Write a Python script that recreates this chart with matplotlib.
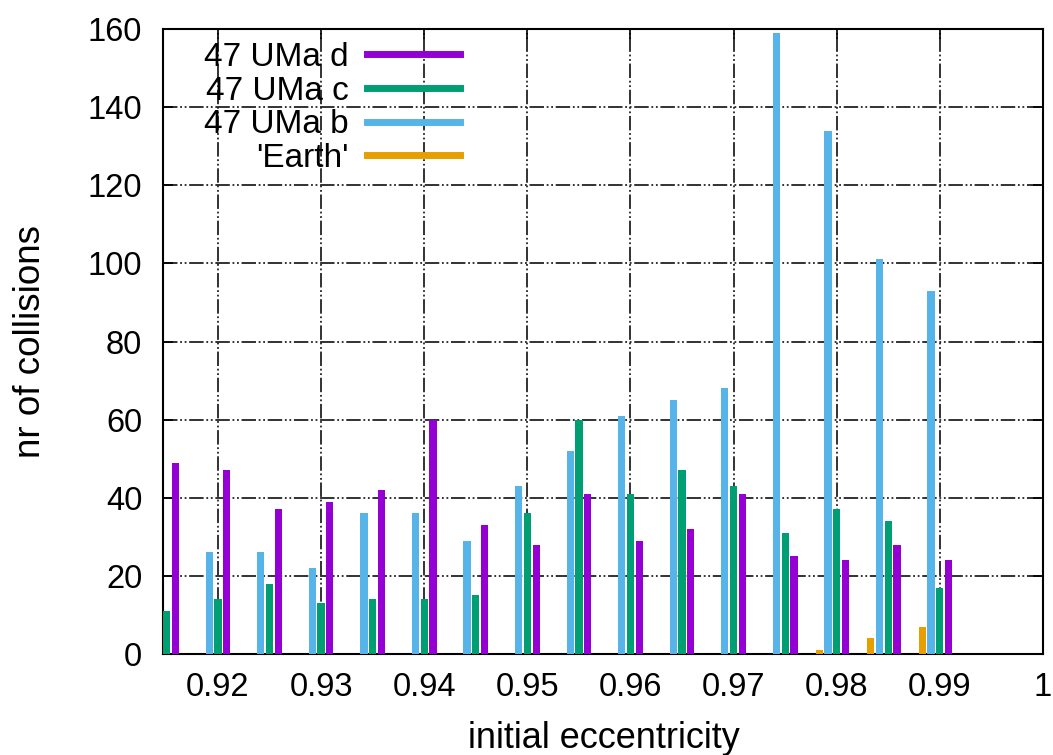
import matplotlib
matplotlib.use("Agg")
import matplotlib.pyplot as plt
import numpy as np

plt.rcParams["font.family"] = ["Liberation Sans", "DejaVu Sans"]

# initial eccentricity of each group
ecc = [0.915, 0.920, 0.925, 0.930, 0.935, 0.940, 0.945, 0.950,
       0.955, 0.960, 0.965, 0.970, 0.975, 0.980, 0.985, 0.990]

# number of collisions per body
uma_d = [49, 47, 37, 39, 42, 60, 33, 28, 41, 29, 32, 41, 25, 24, 28, 24]
uma_c = [11, 14, 18, 13, 14, 14, 15, 36, 60, 41, 47, 43, 31, 37, 34, 17]
uma_b = [0, 26, 26, 22, 36, 36, 29, 43, 52, 61, 65, 68, 159, 134, 101, 93]
earth = [0, 0, 0, 0, 0, 0, 0, 0, 0, 0, 0, 0, 0, 1, 4, 7]

xticks = [0.92, 0.93, 0.94, 0.95, 0.96, 0.97, 0.98, 0.99, 1.0]
xticklabels = ["0.92", "0.93", "0.94", "0.95", "0.96", "0.97", "0.98", "0.99", "1"]
yticks = [0, 20, 40, 60, 80, 100, 120, 140, 160]

col_d = "#9400d3"
col_c = "#009e73"
col_b = "#56b4e9"
col_e = "#e69f00"

W, H = 1053, 755
fig = plt.figure(figsize=(W / 100, H / 100), dpi=100)
ax = fig.add_axes([163 / W, 1 - 654 / H, (1043 - 163) / W, (654 - 29) / H])

ecc = np.array(ecc)
step = 0.00085
width = 0.0007
ax.bar(ecc - 2 * step, earth, width=width, color=col_e, zorder=3)
ax.bar(ecc - step, uma_b, width=width, color=col_b, zorder=3)
ax.bar(ecc, uma_c, width=width, color=col_c, zorder=3)
ax.bar(ecc + step, uma_d, width=width, color=col_d, zorder=3)

ax.set_xlim(0.91467, 1.0)
ax.set_ylim(0, 160)
ax.set_xticks(xticks)
ax.set_xticklabels(xticklabels)
ax.set_yticks(yticks)

ax.grid(True, color="#222222", lw=1.3, linestyle=(0, (8, 1.5, 1, 1.5, 1, 1.5)), zorder=1)
ax.tick_params(direction="in", length=7, width=1.2, top=True, right=True,
               labelsize=23.5)
ax.tick_params(axis="x", pad=13)
ax.tick_params(axis="y", pad=15)
for sp in ax.spines.values():
    sp.set_linewidth(1.5)

fig.text(31 / W, 1 - 342 / H, "nr of collisions", rotation=90,
         ha="center", va="center", fontsize=26.5)
fig.text(604 / W, 1 - 748 / H, "initial eccentricity",
         ha="center", va="baseline", fontsize=26)

handles = [plt.Line2D([], [], color=c, lw=5) for c in (col_d, col_c, col_b, col_e)]
labels = ["47 UMa d", "47 UMa c", "47 UMa b", "'Earth'"]
leg = ax.legend(handles, labels, loc="upper right", markerfirst=False,
                bbox_to_anchor=(460 / W, 1 - 42 / H), bbox_transform=fig.transFigure,
                frameon=False, fontsize=24, handlelength=2.8, handletextpad=0.55,
                labelspacing=0.08, borderpad=0, borderaxespad=0)
leg.set_zorder(5)

fig.savefig("out.png", dpi=100)
